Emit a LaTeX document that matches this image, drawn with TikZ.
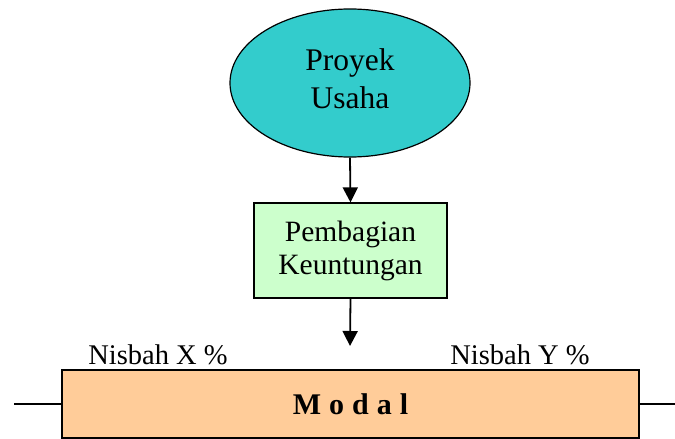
\documentclass[tikz,border=0pt]{standalone}
\usepackage{fontspec}
\setmainfont{Liberation Serif}
\usetikzlibrary{shapes.geometric,arrows.meta}
\definecolor{teal1}{HTML}{33CCCC}
\definecolor{green1}{HTML}{CCFFCC}
\definecolor{peach1}{HTML}{FFCC99}
\begin{document}
\begin{tikzpicture}[x=1pt,y=1pt,
  conn/.style={line width=1.8pt,-{Triangle[width=15pt,length=15pt]}},
  ellbox/.style={ellipse,draw,line width=1.2pt,fill=teal1,inner sep=0pt,
    minimum width=240pt,minimum height=148pt},
  elltext/.style={inner sep=0pt,align=center,
    font=\fontsize{31.5}{37.5}\selectfont},
  greenbox/.style={rectangle,draw,line width=1.2pt,fill=green1,inner sep=0pt,
    minimum width=193pt,minimum height=95pt,align=center,
    font=\fontsize{29.5}{33}\selectfont},
  modalbox/.style={rectangle,draw,line width=1.2pt,fill=peach1,inner sep=0pt,
    minimum width=577pt,minimum height=68pt,
    font=\fontsize{30}{36}\selectfont\bfseries},
  lbl/.style={inner sep=0pt,anchor=base,font=\fontsize{28.5}{32}\selectfont},
  side/.style={line width=1.4pt}]
\useasboundingbox (0,0) rectangle (675,-439);
\node[ellbox] (proyek) at (350,-83) {};
\node[elltext] (proyektxt) at (350,-78.5) {Proyek\\Usaha};
\node[greenbox] (bagi) at (350.5,-250.5) {Pembagian\\Keuntungan};
\node[modalbox] (modal) at (350.5,-404) {M\hspace{8pt}o\hspace{8pt}d\hspace{8pt}a\hspace{8pt}l};
\coordinate (tip) at (350,-346);
\coordinate (lend) at (14,-404);
\coordinate (rend) at (675,-404);
\node[lbl] (nx) at (158,-364) {Nisbah X \%};
\node[lbl] (ny) at (520,-364) {Nisbah Y \%};
\draw[conn] (proyek.south) -- (bagi.north);
\draw[conn] (bagi.south) -- (tip);
\draw[side] (lend) -- (modal.west);
\draw[side] (modal.east) -- (rend);
\end{tikzpicture}
\end{document}
